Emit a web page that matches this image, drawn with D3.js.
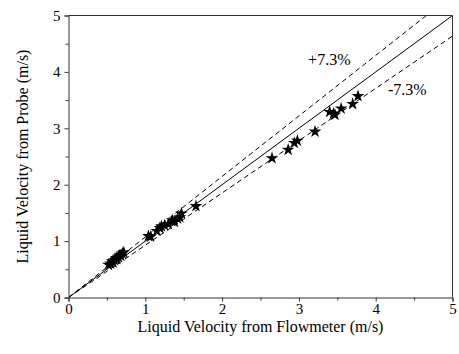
<!DOCTYPE html>
<html>
<head>
<meta charset="utf-8">
<script src="https://cdn.jsdelivr.net/npm/d3@7"></script>
<style>
  body { margin: 0; background: #fff; }
  text { font-family: "Liberation Serif", "Times New Roman", serif; fill: #000; }
</style>
</head>
<body>
<svg id="chart" width="459" height="354"></svg>
<script>

// flowmeter velocity (x) vs probe velocity (y), m/s
var flowmeter = [0.52, 0.55, 0.57, 0.58, 0.60, 0.62, 0.63, 0.65, 0.67, 0.68, 0.70, 0.72,
    1.04, 1.07, 1.15, 1.19, 1.21, 1.25, 1.30, 1.35, 1.38, 1.42, 1.45, 1.47, 1.66,
    2.65, 2.86, 2.94, 2.98, 3.21, 3.40, 3.45, 3.47, 3.55, 3.70, 3.77];
var probe = [0.58, 0.60, 0.64, 0.62, 0.66, 0.70, 0.68, 0.72, 0.75, 0.74, 0.78, 0.80,
    1.09, 1.08, 1.18, 1.23, 1.26, 1.28, 1.30, 1.37, 1.34, 1.40, 1.42, 1.49, 1.62,
    2.47, 2.62, 2.74, 2.78, 2.94, 3.29, 3.26, 3.24, 3.35, 3.43, 3.57];

var refRatios = [1, 1.073, 0.927];
var refLabels = [{ text: '+7.3%', x: 3.12, y: 4.12 }, { text: '-7.3%', x: 4.16, y: 3.59 }];

var xTicks = [0, 1, 2, 3, 4, 5];
var yTicks = [0, 1, 2, 3, 4, 5];

var margin = { top: 15.5, right: 6.5, bottom: 56.5, left: 68.5 };
var width = 459 - margin.left - margin.right,
    height = 354 - margin.top - margin.bottom;

var svg = d3.select('#chart');
var g = svg.append('g')
    .attr('transform', 'translate(' + margin.left + ',' + margin.top + ')');

var xScale = d3.scaleLinear().domain([0, 5]).range([0, width]);
var yScale = d3.scaleLinear().domain([0, 5]).range([height, 0]);

g.append('clipPath').attr('id', 'plot-clip')
    .append('rect').attr('width', width).attr('height', height);

// reference lines
var line = d3.line()
    .x(function (d) { return xScale(d[0]); })
    .y(function (d) { return yScale(d[1]); });

g.append('g').attr('clip-path', 'url(#plot-clip)')
    .selectAll('path')
    .data(refRatios)
    .enter().append('path')
    .attr('d', function (r) { return line([[0, 0], [5, 5 * r]]); })
    .attr('fill', 'none')
    .attr('stroke', '#000')
    .attr('stroke-width', 1)
    .attr('stroke-dasharray', function (r) { return r === 1 ? null : '5,3.5'; });

// data points
var star = d3.symbol().type(d3.symbolStar).size(50);
g.append('g').selectAll('path')
    .data(d3.range(flowmeter.length))
    .enter().append('path')
    .attr('transform', function (i) {
        return 'translate(' + xScale(flowmeter[i]) + ',' + yScale(probe[i]) + ')';
    })
    .attr('d', star)
    .attr('fill', '#000');

g.selectAll('.ref-label')
    .data(refLabels)
    .enter().append('text')
    .attr('class', 'ref-label')
    .attr('x', function (d) { return xScale(d.x); })
    .attr('y', function (d) { return yScale(d.y); })
    .style('font-size', '16px')
    .text(function (d) { return d.text; });

// axes
var minor = d3.range(0.5, 5, 1);

var xAxis = g.append('g').attr('transform', 'translate(0,' + height + ')')
    .call(d3.axisBottom(xScale).tickValues(xTicks).tickFormat(d3.format('d')).tickSize(4).tickPadding(2));
xAxis.append('g').call(d3.axisBottom(xScale).tickValues(minor).tickFormat('').tickSize(3))
    .select('.domain').remove();

var yAxis = g.append('g')
    .call(d3.axisLeft(yScale).tickValues(yTicks).tickFormat(d3.format('d')).tickSize(4).tickPadding(4));
yAxis.append('g').call(d3.axisLeft(yScale).tickValues(minor).tickFormat('').tickSize(3))
    .select('.domain').remove();

[xAxis, yAxis].forEach(function (a) {
    a.attr('font-family', '"Liberation Serif", serif').attr('font-size', 15);
});
g.selectAll('.domain').attr('stroke', '#333');
g.selectAll('.tick line').attr('stroke', '#333');
g.selectAll('.tick text')
    .style('font-family', '"Liberation Serif", serif')
    .style('font-size', '15px')
    .attr('fill', '#000');

// top and right frame
g.append('path')
    .attr('d', 'M0,0H' + width + 'V' + height)
    .attr('fill', 'none')
    .attr('stroke', '#333');

svg.append('text')
    .attr('x', margin.left + width / 2)
    .attr('y', 332)
    .attr('text-anchor', 'middle')
    .style('font-size', '16px')
    .text('Liquid Velocity from Flowmeter (m/s)');

svg.append('text')
    .attr('transform', 'translate(28,' + (margin.top + height / 2) + ') rotate(-90)')
    .attr('text-anchor', 'middle')
    .style('font-size', '16px')
    .text('Liquid Velocity from Probe (m/s)');

</script>
</body>
</html>
